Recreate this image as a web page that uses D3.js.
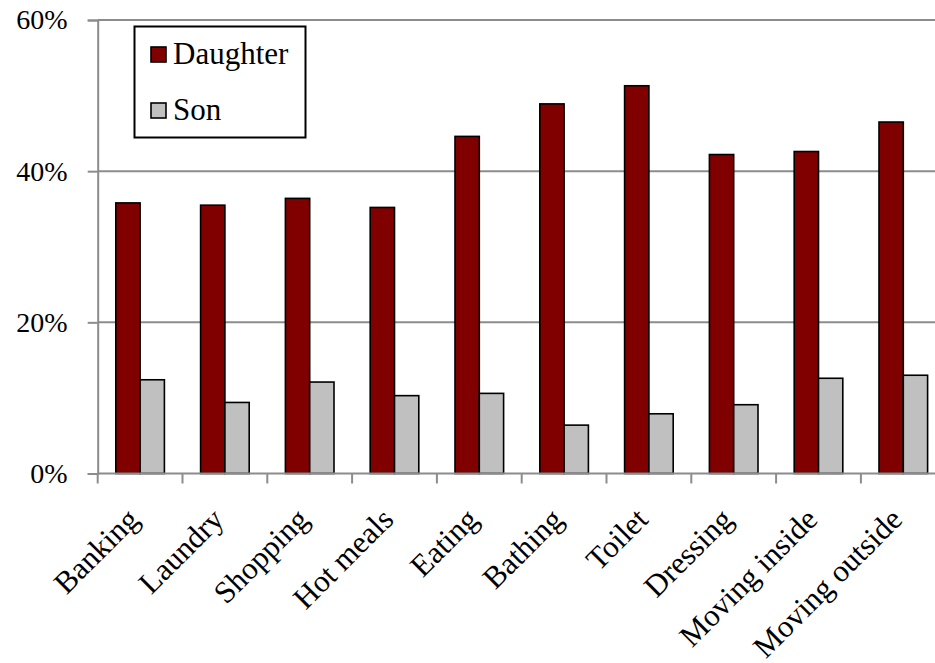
<!DOCTYPE html>
<html>
<head>
<meta charset="utf-8">
<script src="https://cdn.jsdelivr.net/npm/d3@7"></script>
<style>
  html, body { margin: 0; padding: 0; background: #fff; }
  svg { display: block; }
  svg text { font-family: "Liberation Serif", "Times New Roman", serif !important; fill: #000; }
</style>
</head>
<body>
<svg id="chart" width="935" height="663"></svg>
<script>
// Share of care provided, by task and by child
const categories = ["Banking", "Laundry", "Shopping", "Hot meals", "Eating", "Bathing", "Toilet", "Dressing", "Moving inside", "Moving outside"];
const seriesNames = ["Daughter", "Son"];
const daughter = [35.8, 35.5, 36.4, 35.2, 44.6, 48.9, 51.3, 42.2, 42.6, 46.5];
const son = [12.4, 9.4, 12.1, 10.3, 10.6, 6.4, 7.9, 9.1, 12.6, 13.0];
const yTicks = [0, 20, 40, 60];
const colors = ["#800000", "#c0c0c0"];

const svg = d3.select("#chart");
const left = 97.7, zeroY = 473.5, topY = 20;
const bandW = 84.8;
const serif = "'Liberation Serif', 'Times New Roman', serif";

const x = d3.scaleBand().domain(categories).range([left, left + bandW * categories.length]);
const y = d3.scaleLinear().domain([0, 60]).range([zeroY, topY]);
const inner = d3.scaleBand().domain(seriesNames).range([0, 48.6]);

// horizontal gridlines
svg.append("g").selectAll("line").data(yTicks.slice(1)).join("line")
  .attr("x1", left).attr("x2", 935)
  .attr("y1", d => y(d)).attr("y2", d => y(d))
  .attr("stroke", "#8c8c8c").attr("stroke-width", 2);

// y axis
const yAxis = svg.append("g").attr("transform", `translate(${left},0)`)
  .call(d3.axisLeft(y).tickValues(yTicks).tickSize(10).tickPadding(20).tickFormat(d => d + "%"));
yAxis.attr("font-family", serif);
yAxis.select(".domain").attr("stroke", "#8c8c8c").attr("stroke-width", 2);
yAxis.selectAll(".tick line").attr("stroke", "#8c8c8c").attr("stroke-width", 2);
yAxis.selectAll(".tick text").attr("font-size", 28).attr("fill", "#000");

// bars
const rows = categories.map((c, i) => ({ cat: c, vals: [daughter[i], son[i]] }));
const groups = svg.append("g").selectAll("g").data(rows).join("g")
  .attr("transform", d => `translate(${x(d.cat) + (bandW - 48.6) / 2},0)`);
groups.selectAll("rect").data(d => d.vals.map((v, k) => ({ k, v }))).join("rect")
  .attr("x", d => inner(seriesNames[d.k]))
  .attr("width", inner.bandwidth())
  .attr("y", d => y(d.v))
  .attr("height", d => zeroY - y(d.v))
  .attr("fill", d => colors[d.k])
  .attr("stroke", "#000").attr("stroke-width", 1.6);

// x axis baseline and category ticks
svg.append("line").attr("x1", left).attr("x2", 935).attr("y1", zeroY).attr("y2", zeroY)
  .attr("stroke", "#8c8c8c").attr("stroke-width", 2);
const boundaries = d3.range(categories.length + 1).map(i => left + i * bandW);
svg.append("g").selectAll("line").data(boundaries).join("line")
  .attr("x1", d => d).attr("x2", d => d).attr("y1", zeroY).attr("y2", zeroY + 10)
  .attr("stroke", "#8c8c8c").attr("stroke-width", 2);

// rotated category labels
svg.append("g").attr("font-family", serif).selectAll("text").data(categories).join("text")
  .attr("transform", d => `translate(${x(d) + bandW / 2 - 7},${zeroY + 40}) rotate(-45)`)
  .attr("text-anchor", "end")
  .attr("dy", "0.35em")
  .attr("font-size", 31)
  .text(d => d);

// legend
const lg = svg.append("g").attr("font-family", serif);
lg.append("rect").attr("x", 134.5).attr("y", 26.5).attr("width", 171).attr("height", 111)
  .attr("fill", "#fff").attr("stroke", "#000").attr("stroke-width", 2);
seriesNames.forEach((name, i) => {
  const yy = 47 + i * 56;
  lg.append("rect").attr("x", 151).attr("y", yy).attr("width", 15).attr("height", 15)
    .attr("fill", colors[i]).attr("stroke", "#000").attr("stroke-width", 1.6);
  lg.append("text").attr("x", 173).attr("y", yy + 17).attr("font-size", 31).text(name);
});
</script>
</body>
</html>
